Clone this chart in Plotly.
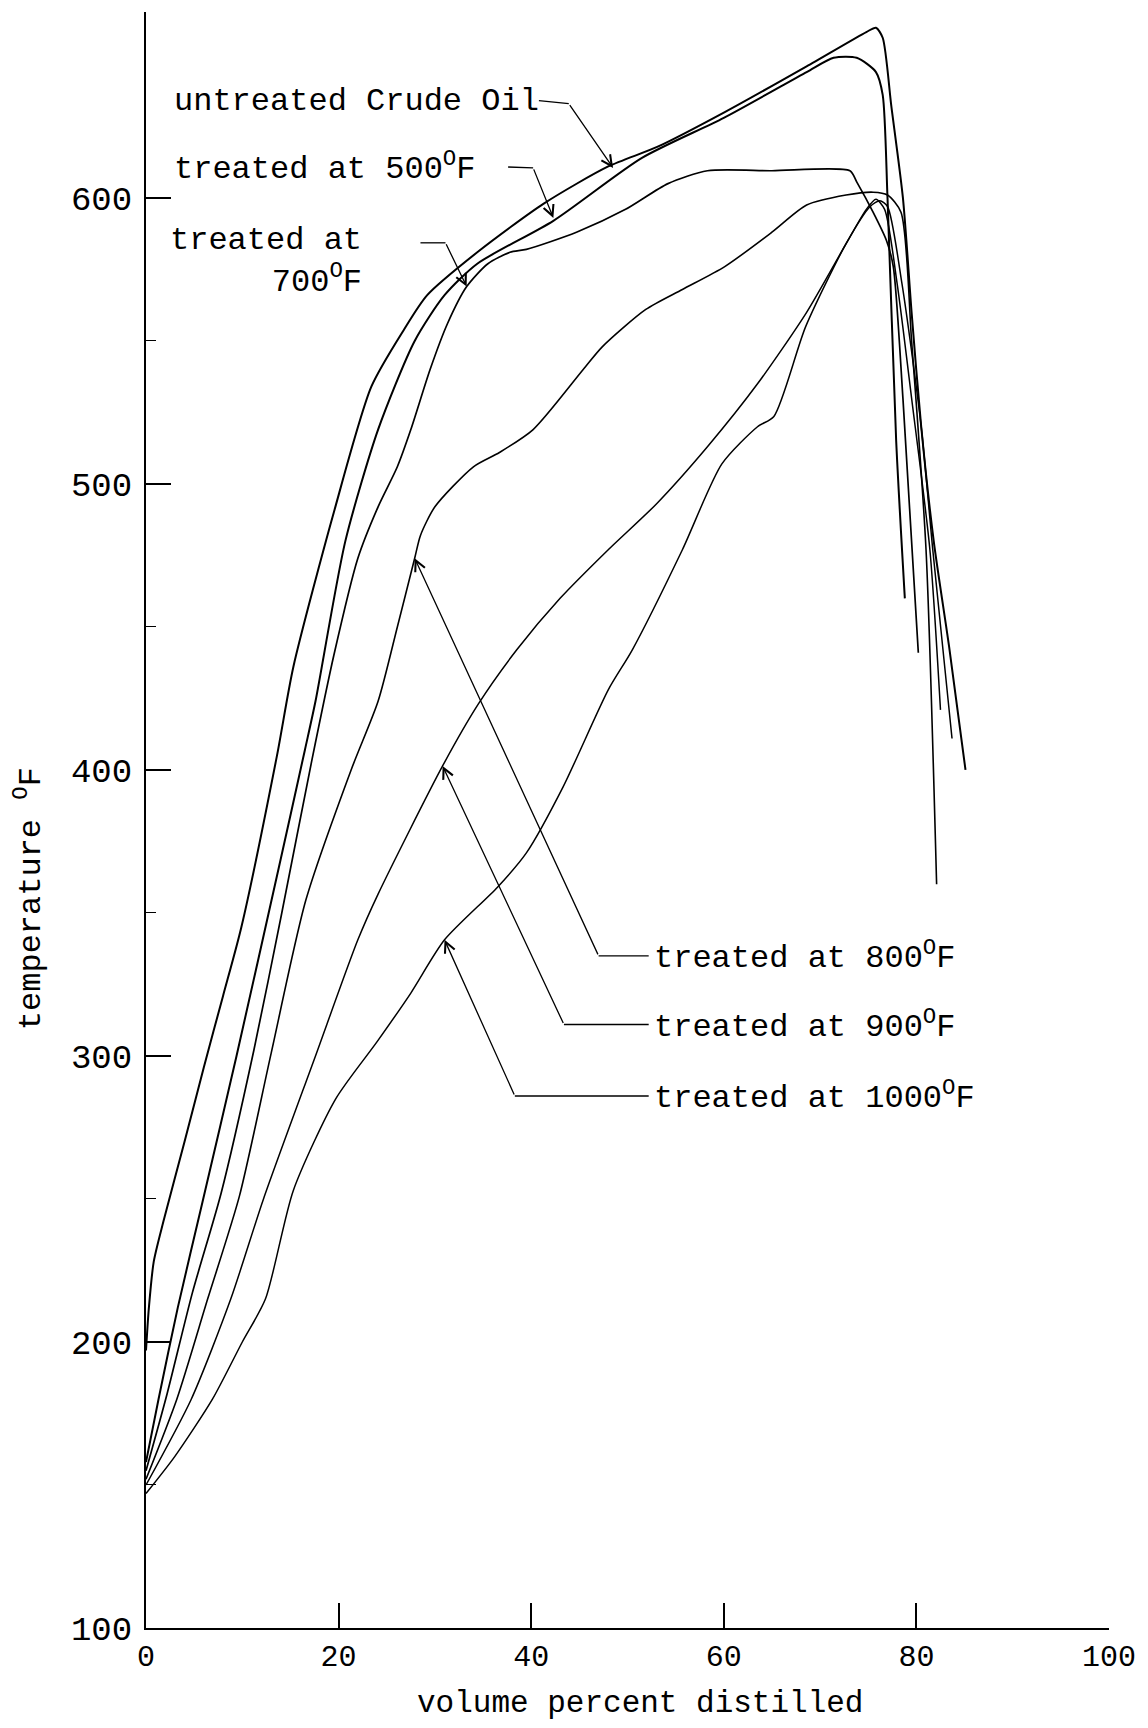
import plotly.graph_objects as go

# ---------------- data ----------------
untreated_x = [0, 0.3, 0.8, 1.8, 4.0, 6.0, 8.0, 9.9, 13.6, 15.3, 19.5, 23.4, 26.8, 29.2, 34.4, 41.3,
               48, 53.2, 60.1, 68.6, 74.8, 75.8, 76.5, 77.4, 78.6, 79.5, 80.5, 81.8, 83.4, 85.1]
untreated_y = [197, 212, 228, 242, 270, 296, 321, 345, 405, 436, 490, 534, 554, 566, 581, 598,
               611, 618, 630, 646, 658, 659.5, 656, 632, 600, 560, 520, 480, 443, 400]

t500_x = [0, 1.3, 3.3, 5.8, 9.4, 13.8, 16.5, 17.6, 20.7, 24.1, 27.9, 31, 34.4, 42.3, 51.5,
          60, 68.6, 71.4, 73.8, 75.8, 76.5, 77.0, 77.9, 78.8]
t500_y = [158, 180, 212, 248, 300, 366, 407, 424, 480, 519, 550, 566, 577, 592, 614,
          628, 644, 649, 649, 644, 636, 600, 515, 460]

t700_x = [0, 2.2, 4.8, 7.8, 11.2, 14.1, 17.2, 19.5, 22, 24.1, 26.1, 27.5, 29.5, 31.3, 33.3,
          35.5, 37.8, 39.5, 44.7, 49.8, 54.2, 58.3, 65, 73.1, 73.8, 75.5, 76.9, 77.6, 78.6, 80.2]
t700_y = [155, 182, 217, 252, 302, 350, 403, 440, 474, 492, 506, 519, 540, 556, 569,
          577, 581, 582, 588, 596, 605, 609.5, 609.5, 609.5, 605.6, 595, 585, 576, 530, 441]

t800_x = [0, 3.2, 6.4, 9.7, 13, 16.6, 21.3, 24.1, 26.1, 27.9, 28.5, 30, 34, 36.7, 40.2,
          45.4, 47.4, 51.9, 55.7, 60.1, 65, 68.6, 72.7, 75.5, 77, 78.4, 79.5, 81, 82.1]
t800_y = [152, 180, 215, 251, 301, 354.5, 400, 424, 450, 474, 482, 492, 506, 511, 519,
          540, 548, 561, 568, 576, 588, 597.5, 601, 602, 601, 595, 550, 477, 360]

t900_x = [0, 4.7, 8.8, 12.2, 17.6, 22, 24.1, 30.8, 34.5, 38.5, 43, 48, 53, 58.3, 63.5,
          68.6, 72.7, 74.8, 75.8, 76.7, 78, 79.5, 81.4, 82.5]
t900_y = [150, 180, 215, 250, 300, 340.6, 356.6, 401.4, 423, 442, 460, 477, 493, 513, 535,
          560, 584, 596, 599.5, 596, 570, 530, 477, 421]

t1000_x = [0, 3, 6.9, 10, 12.4, 15.3, 19.7, 24, 27.5, 31, 36.5, 39.5, 43.3, 48, 50.5, 55.7,
           59.8, 63.5, 65.2, 68.5, 72.7, 75.2, 76.2, 77, 78.5, 80.5, 81.7, 83.7]
t1000_y = [147, 160, 180, 200, 215, 253, 285, 305, 322, 340.6, 359, 371, 394, 428, 442, 477,
           507, 520, 523.6, 555, 584, 597, 599, 597, 570, 520, 477, 411]

series = [
    ("untreated Crude Oil", untreated_x, untreated_y, 2.0),
    ("treated at 500\u00b0F", t500_x, t500_y, 2.0),
    ("treated at 700\u00b0F", t700_x, t700_y, 1.7),
    ("treated at 800\u00b0F", t800_x, t800_y, 1.6),
    ("treated at 900\u00b0F", t900_x, t900_y, 1.5),
    ("treated at 1000\u00b0F", t1000_x, t1000_y, 1.5),
]

x_ticks = [0, 20, 40, 60, 80, 100]
y_ticks = [100, 200, 300, 400, 500, 600]

# label texts and leader-line geometry (label pos, horizontal segment, arrow tip)
labels = [
    # text, x, y, xanchor, align
    ("untreated Crude Oil", 2.7, 633.6, "left", "left"),
    ("treated at 500<sup>O</sup>F", 2.7, 610.8, "left", "left"),
    ("treated at<br>700<sup>O</sup>F", 22.6, 577.6, "right", "right"),
    ("treated at 800<sup>O</sup>F", 52.5, 335, "left", "left"),
    ("treated at 900<sup>O</sup>F", 52.5, 311, "left", "left"),
    ("treated at 1000<sup>O</sup>F", 52.5, 286, "left", "left"),
]
leaders = [
    # start(x,y), elbow(x,y), tip(x,y)
    ((40.8, 634), (43.9, 633), (48.5, 610.5)),
    ((37.6, 610.8), (40.2, 610.5), (42.3, 593)),
    ((28.5, 584.3), (31.1, 584.3), (33.3, 569)),
    ((52.2, 335), (47.0, 335), (27.9, 474)),
    ((52.2, 311), (43.4, 311), (30.8, 401.4)),
    ((52.2, 286), (38.3, 286), (31.0, 340.6)),
]

FONT = "Liberation Mono, Courier New, monospace"

fig = go.Figure()
for name, xs, ys, w in series:
    fig.add_trace(go.Scatter(x=xs, y=ys, mode="lines", name=name,
                             line=dict(color="black", width=w, shape="spline", smoothing=0.7),
                             showlegend=False))

for text, x, y, xa, al in labels:
    fig.add_annotation(x=x, y=y, xref="x", yref="y", text=text, showarrow=False,
                       xanchor=xa, yanchor="middle", align=al,
                       font=dict(family=FONT, size=32, color="black"))

for (sx, sy), (ex, ey), (tx, ty) in leaders:
    fig.add_shape(type="line", x0=sx, y0=sy, x1=ex, y1=ey, xref="x", yref="y",
                  line=dict(color="black", width=1.3))
    fig.add_annotation(x=tx, y=ty, ax=ex, ay=ey, xref="x", yref="y", axref="x", ayref="y",
                       text="", showarrow=True, arrowhead=5, arrowsize=1.6, arrowwidth=1.3,
                       arrowcolor="black", standoff=0)

# axis titles
fig.add_annotation(x=51.3, y=-0.047, xref="x", yref="paper", text="volume percent distilled",
                   showarrow=False, xanchor="center", yanchor="middle",
                   font=dict(family=FONT, size=31, color="black"))
fig.add_annotation(x=-0.122, y=355, xref="paper", yref="y", text="temperature <sup>O</sup>F",
                   showarrow=False, textangle=-90, xanchor="center", yanchor="middle",
                   font=dict(family=FONT, size=32, color="black"))

fig.update_xaxes(range=[0, 100], tickvals=x_ticks, ticktext=[str(v) for v in x_ticks],
                 ticks="inside", ticklen=25, tickwidth=1.5, tickcolor="black",
                 showline=True, linecolor="black", linewidth=2, showgrid=False, zeroline=False,
                 tickfont=dict(family=FONT, size=30, color="black"), ticklabelstandoff=0)
fig.update_yaxes(range=[100, 665], tickvals=y_ticks, ticktext=[str(v) for v in y_ticks],
                 ticks="inside", ticklen=25, tickwidth=1.5, tickcolor="black",
                 minor=dict(tickvals=[150, 250, 350, 450, 550], ticks="inside", ticklen=10,
                            tickwidth=1.2, tickcolor="black"),
                 showline=True, linecolor="black", linewidth=2, showgrid=False, zeroline=False,
                 tickfont=dict(family=FONT, size=34, color="black"), ticklabelstandoff=5)

fig.update_layout(width=1148, height=1728, margin=dict(l=146, r=30, t=12, b=100),
                  paper_bgcolor="white", plot_bgcolor="white", showlegend=False)

fig.write_html("out.html")
